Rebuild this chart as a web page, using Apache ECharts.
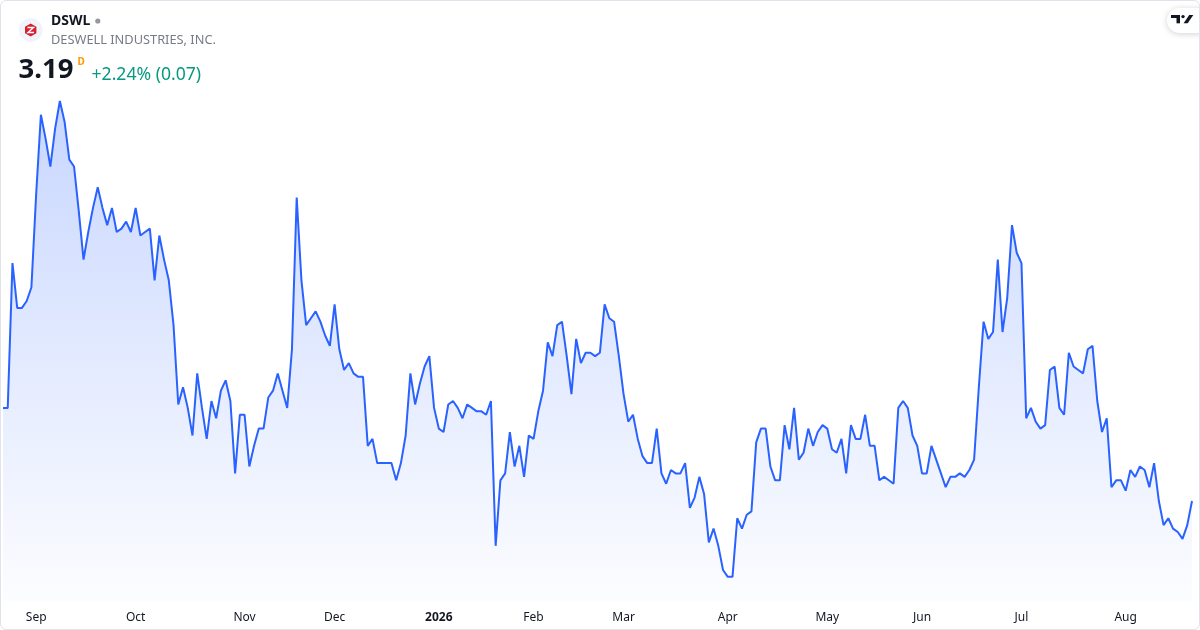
<!DOCTYPE html>
<html><head><meta charset="utf-8">
<script src="https://cdn.jsdelivr.net/npm/echarts@6/dist/echarts.min.js"></script>
<style>
html,body{margin:0;padding:0;background:#fff;}
#chart{position:absolute;left:0;top:0;width:1200px;height:630px;}
#frame{position:absolute;left:0;top:0;width:1200px;height:630px;box-sizing:border-box;border:1px solid #e0e3eb;border-radius:6px;pointer-events:none;}
</style></head><body>
<div id="chart"></div><div id="frame"></div>
<script>
const ticker = 'DSWL';
const companyName = 'DESWELL INDUSTRIES, INC.';
const lastPrice = '3.19';
const intervalBadge = 'D';
const changeText = '+2.24% (0.07)';
const monthLabels = ['2026','Feb','Mar','Apr','May','Jun','Jul','Aug','Sep','Oct','Nov','Dec'];
const firstDate = '2025-08-21';
const lastDate = '2026-08-21';
const holidays = ['2025-09-01','2025-11-27','2025-12-25','2026-01-01','2026-01-19','2026-02-16','2026-04-03','2026-05-25','2026-06-19','2026-07-03'];
const closes2025 = [3.46,3.46,3.88,3.75,3.75,3.77,3.81,4.08,4.31,4.24,4.16,4.27,4.35,4.29,4.18,4.16,4.03,3.89,3.97,4.04,
4.10,4.04,3.99,4.04,3.97,3.98,4.00,3.97,4.04,3.96,3.97,3.98,3.83,3.96,3.89,3.83,3.70,3.47,3.52,3.46,
3.38,3.56,3.46,3.37,3.48,3.43,3.51,3.54,3.48,3.27,3.44,3.44,3.29,3.35,3.40,3.40,3.49,3.51,3.56,3.51,
3.46,3.63,4.07,3.83,3.70,3.72,3.74,3.71,3.67,3.64,3.76,3.63,3.57,3.59,3.56,3.55,3.55,3.35,3.37,3.30,
3.30,3.30,3.30,3.25,3.30,3.38,3.56,3.47,3.53,3.58,3.61,3.46];
const closes2026 = [3.40,3.39,3.47,3.48,3.46,3.43,3.47,3.46,3.45,3.45,3.44,3.48,3.06,3.25,3.27,3.39,3.29,3.35,3.26,3.38,
3.37,3.45,3.51,3.65,3.61,3.70,3.71,3.61,3.50,3.66,3.59,3.62,3.62,3.61,3.62,3.76,3.72,3.71,3.61,3.50,
3.42,3.44,3.37,3.32,3.30,3.30,3.40,3.27,3.24,3.28,3.27,3.27,3.30,3.17,3.20,3.26,3.21,3.07,3.11,3.06,
2.99,2.97,2.97,3.14,3.11,3.15,3.16,3.36,3.40,3.40,3.29,3.25,3.25,3.41,3.34,3.46,3.31,3.33,3.40,3.35,
3.39,3.41,3.40,3.34,3.33,3.37,3.27,3.41,3.37,3.37,3.44,3.35,3.35,3.25,3.26,3.25,3.24,3.46,3.48,3.46,
3.38,3.35,3.27,3.27,3.35,3.31,3.27,3.23,3.26,3.26,3.27,3.26,3.28,3.31,3.52,3.71,3.66,3.68,3.89,3.68,
3.78,3.99,3.91,3.88,3.43,3.46,3.42,3.40,3.41,3.57,3.58,3.46,3.44,3.62,3.58,3.57,3.56,3.63,3.64,3.48,
3.39,3.43,3.23,3.25,3.25,3.22,3.28,3.26,3.29,3.28,3.23,3.30,3.19,3.12,3.14,3.11,3.10,3.08,3.12,3.19];
const closes = closes2025.concat(closes2026);

// trading-day calendar (weekdays without exchange holidays)
const dates = [];
(function(){
  let t = Date.parse(firstDate + 'T00:00:00Z');
  const end = Date.parse(lastDate + 'T00:00:00Z');
  while (t <= end) {
    const d = new Date(t);
    const dow = d.getUTCDay();
    const s = d.toISOString().slice(0,10);
    if (dow !== 0 && dow !== 6 && holidays.indexOf(s) < 0) dates.push(s);
    t += 86400000;
  }
})();
const isMonthStart = dates.map((d,i)=> i>0 && d.slice(5,7) !== dates[i-1].slice(5,7));

const FONT = '"Noto Sans", sans-serif';
const chart = echarts.init(document.getElementById('chart'), null, {renderer:'canvas'});
chart.setOption({
  animation:false,
  backgroundColor:'#ffffff',
  grid:{left:3, right:8, top:101, bottom:29, containLabel:false},
  xAxis:{
    type:'category', data:dates, boundaryGap:false,
    axisLine:{show:false}, axisTick:{show:false}, splitLine:{show:false},
    axisLabel:{
      interval:(idx)=>isMonthStart[idx],
      margin:11, color:'#131722', fontSize:12, fontFamily:FONT,
      formatter:(v)=>{ const m = parseInt(v.slice(5,7),10); return m===1 ? '{y|'+monthLabels[0]+'}' : monthLabels[(m+10)%12+1] ; },
      rich:{y:{fontWeight:'bold', fontSize:12, color:'#131722', fontFamily:FONT}}
    }
  },
  yAxis:{type:'value', min:2.90, max:4.35, show:false, splitLine:{show:false}},
  series:[{
    type:'line', data:closes, showSymbol:false, symbol:'none',
    lineStyle:{color:'#2962ff', width:2},
    areaStyle:{origin:'start', color:new echarts.graphic.LinearGradient(0,0,0,1,[
      {offset:0,color:'rgba(41,98,255,0.37)'},{offset:1,color:'rgba(41,98,255,0.02)'}])}
  }],
  graphic:[
    {type:'circle', shape:{cx:30.7, cy:30, r:11.8}, style:{fill:'#f0f3fa'}},
    {type:'polygon', shape:{points:[[30.7,23.5],[36.4,26.8],[36.4,33.2],[30.7,36.5],[25,33.2],[25,26.8]]}, style:{fill:'#d91e2e'}},
    {type:'polyline', shape:{points:[[27.5,27.5],[33.5,27.5],[28,32.5],[34,32.5]]}, style:{stroke:'#ffffff', lineWidth:1.4, fill:null}},
    {type:'text', x:51, y:21.3, style:{text:ticker, fontFamily:FONT, fontSize:14, fontWeight:'bold', fill:'#131722', verticalAlign:'middle'}},
    {type:'circle', shape:{cx:97.8, cy:21, r:2.6}, style:{fill:'#9598a1'}},
    {type:'text', x:51, y:40.8, style:{text:companyName, fontFamily:FONT, fontSize:12.8, fill:'#787b86', verticalAlign:'middle'}},
    {type:'text', x:18.5, y:70.5, style:{text:lastPrice, fontFamily:FONT, fontSize:27.5, fontWeight:'bold', fill:'#131722', verticalAlign:'middle'}},
    {type:'text', x:77.5, y:62, style:{text:intervalBadge, fontFamily:FONT, fontSize:10, fontWeight:'bold', fill:'#ff9800', verticalAlign:'middle'}},
    {type:'text', x:91.5, y:74.5, style:{text:changeText, fontFamily:FONT, fontSize:17.6, fill:'#089981', verticalAlign:'middle'}},
    {type:'rect', shape:{x:1167, y:8, width:44, height:25, r:12.5}, style:{fill:'#ffffff', shadowBlur:6, shadowColor:'rgba(0,0,0,0.18)', shadowOffsetY:1}},
    {type:'rect', shape:{x:1171, y:15, width:9, height:3}, style:{fill:'#131722'}},
    {type:'rect', shape:{x:1176.5, y:15, width:3.5, height:8.3}, style:{fill:'#131722'}},
    {type:'circle', shape:{cx:1183, cy:16.6, r:1.7}, style:{fill:'#131722'}},
    {type:'polygon', shape:{points:[[1183.6,23.3],[1189.2,15],[1193.3,15],[1187.7,23.3]]}, style:{fill:'#131722'}}
  ]
});
</script>
</body></html>
